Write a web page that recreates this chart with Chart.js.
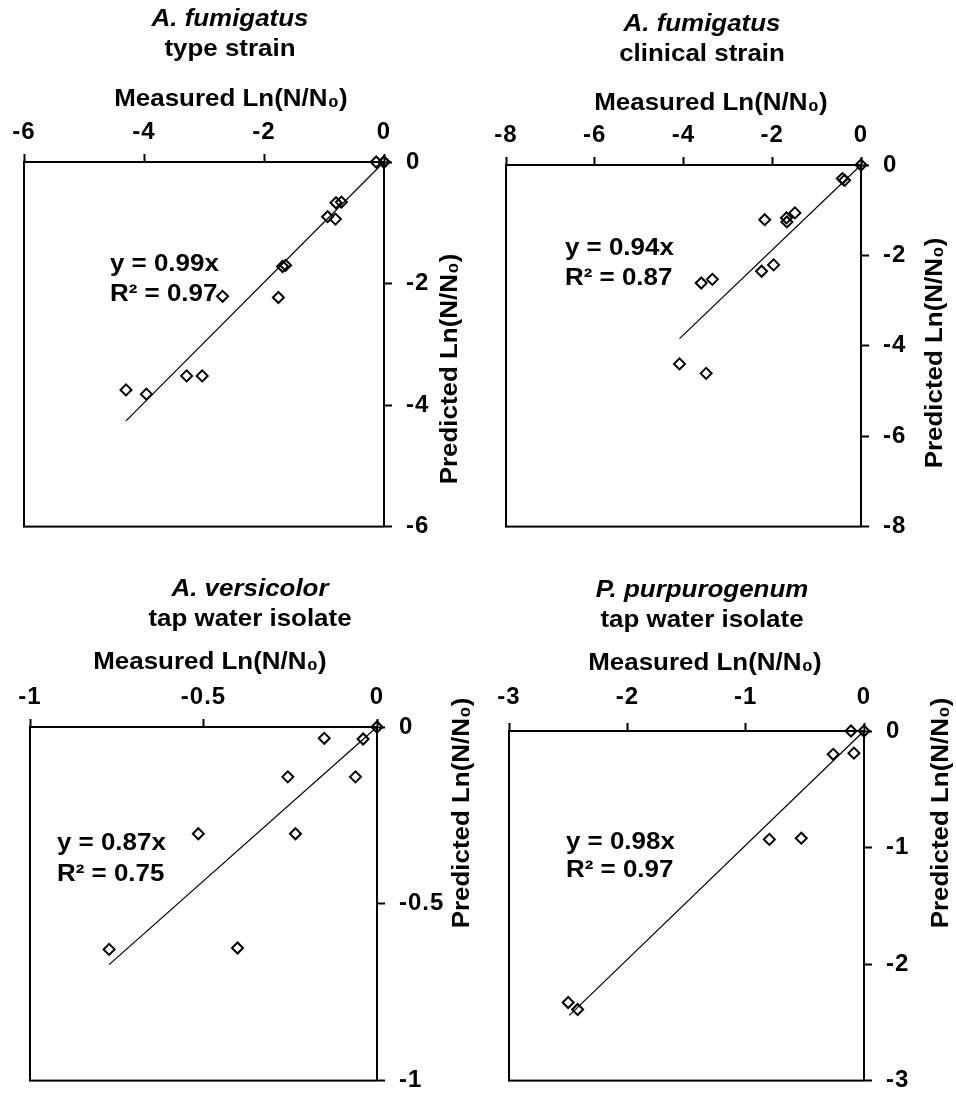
<!DOCTYPE html>
<html>
<head>
<meta charset="utf-8">
<script src="https://cdn.jsdelivr.net/npm/chart.js@4.4.1/dist/chart.umd.min.js"></script>
<style>
  html, body { margin: 0; padding: 0; background: #fff; }
  body { width: 956px; height: 1109px; position: relative; overflow: hidden; }
  canvas { position: absolute; display: block; }
</style>
</head>
<body>
<canvas id="c1" width="478" height="555" style="left:0px;top:0px;width:478px;height:555px"></canvas>
<canvas id="c2" width="478" height="555" style="left:478px;top:0px;width:478px;height:555px"></canvas>
<canvas id="c3" width="478" height="554" style="left:0px;top:555px;width:478px;height:554px"></canvas>
<canvas id="c4" width="478" height="554" style="left:478px;top:555px;width:478px;height:554px"></canvas>
<script>
// ---------------- DATA ----------------
const panelTitles    = ['A. fumigatus', 'A. fumigatus', 'A. versicolor', 'P. purpurogenum'];
const panelSubtitles = ['type strain', 'clinical strain', 'tap water isolate', 'tap water isolate'];
const xAxisTitle = 'Measured Ln(N/N\u2080)';
const yAxisTitle = 'Predicted Ln(N/N\u2080)';

// A. fumigatus type strain
const typeMeasured  = [-0.13, 0, 0, -0.80, -0.71, -0.94, -0.81, -1.69, -1.64, -2.69, -1.76, -3.29, -3.03, -4.30, -3.96];
const typePredicted = [0, 0, 0, -0.67, -0.66, -0.90, -0.94, -1.72, -1.70, -2.21, -2.23, -3.52, -3.52, -3.75, -3.82];
const typeTrendX = [-4.30, 0];
const typeTrendY = [-4.26, 0];
const typeTicks  = [-6, -4, -2, 0];
const typeEquation = ['y = 0.99x', 'R\u00B2 = 0.97'];

// A. fumigatus clinical strain
const clinMeasured  = [0, -0.42, -0.37, -2.17, -1.68, -1.67, -1.49, -2.24, -1.97, -3.60, -3.35, -4.09, -3.49];
const clinPredicted = [0, -0.30, -0.34, -1.21, -1.17, -1.26, -1.06, -2.35, -2.21, -2.61, -2.53, -4.40, -4.61];
const clinTrendX = [-4.09, 0];
const clinTrendY = [-3.84, 0];
const clinTicks  = [-8, -6, -4, -2, 0];
const clinEquation = ['y = 0.94x', 'R\u00B2 = 0.87'];

// A. versicolor tap water isolate
const versMeasured  = [0, -0.152, -0.040, -0.257, -0.062, -0.515, -0.235, -0.772, -0.402];
const versPredicted = [0, -0.032, -0.034, -0.141, -0.141, -0.302, -0.302, -0.629, -0.625];
const versTrendX = [-0.772, 0];
const versTrendY = [-0.672, 0];
const versTicks  = [-1, -0.5, 0];
const versEquation = ['y = 0.87x', 'R\u00B2 = 0.75'];

// P. purpurogenum tap water isolate
const purpMeasured  = [-0.11, 0, -0.26, -0.085, -0.80, -0.53, -2.50, -2.42];
const purpPredicted = [0, 0, -0.20, -0.19, -0.93, -0.92, -2.33, -2.39];
const purpTrendX = [-2.49, 0];
const purpTrendY = [-2.44, 0];
const purpTicks  = [-3, -2, -1, 0];
const purpEquation = ['y = 0.98x', 'R\u00B2 = 0.97'];

// ---------------- LAYOUT (page pixel positions) ----------------
const FONT = '"Liberation Sans", Arial, Helvetica, sans-serif';
const FS = 24;
const LH = FS * 1.2;
const TICK_LETTER_SPACING = '1px';
const TEXT_STRETCH = 1.08;

const layouts = [
  { canvas: {x: 0,   y: 0,   w: 478, h: 555}, area: {l: 24,  r: 384, t: 162, b: 535},
    titleX: 230, titleY: 19, subY: 49, xTitle: {x: 231, y: 99},  yTitle: {x: 450, y: 369}, xTickY: 132, eq: {x: 110, y1: 264, y2: 294} },
  { canvas: {x: 478, y: 0,   w: 478, h: 555}, area: {l: 506, r: 861, t: 165, b: 539},
    titleX: 702, titleY: 24, subY: 54, xTitle: {x: 711, y: 103}, yTitle: {x: 935, y: 353}, xTickY: 135, eq: {x: 565, y1: 248, y2: 278} },
  { canvas: {x: 0,   y: 555, w: 478, h: 554}, area: {l: 30,  r: 377, t: 727, b: 1097},
    titleX: 250, titleY: 589, subY: 619, xTitle: {x: 210, y: 662}, yTitle: {x: 462, y: 813}, xTickY: 697, eq: {x: 57, y1: 843, y2: 874} },
  { canvas: {x: 478, y: 555, w: 478, h: 554}, area: {l: 509, r: 864, t: 731, b: 1095},
    titleX: 702, titleY: 590, subY: 620, xTitle: {x: 705, y: 663}, yTitle: {x: 941, y: 813}, xTickY: 697, eq: {x: 566, y1: 842, y2: 870} }
];

const panelsData = [
  { mx: typeMeasured, py: typePredicted, tx: typeTrendX, ty: typeTrendY, ticks: typeTicks, eq: typeEquation },
  { mx: clinMeasured, py: clinPredicted, tx: clinTrendX, ty: clinTrendY, ticks: clinTicks, eq: clinEquation },
  { mx: versMeasured, py: versPredicted, tx: versTrendX, ty: versTrendY, ticks: versTicks, eq: versEquation },
  { mx: purpMeasured, py: purpPredicted, tx: purpTrendX, ty: purpTrendY, ticks: purpTicks, eq: purpEquation }
];

function stretchedText(ctx, text, x, y, rot) {
  ctx.save();
  ctx.translate(x, y);
  if (rot) ctx.rotate(rot);
  ctx.scale(TEXT_STRETCH, 1);
  ctx.fillText(text, 0, 0);
  ctx.restore();
}

const decorPlugin = {
  id: 'decor',
  beforeDraw(chart) {
    try { chart.ctx.letterSpacing = TICK_LETTER_SPACING; } catch (e) {}
  },
  beforeDatasetsDraw(chart, args, o) {
    const a = chart.chartArea, ctx = chart.ctx;
    ctx.save();
    ctx.strokeStyle = '#000';
    ctx.lineWidth = 2;
    ctx.strokeRect(a.left, a.top, a.right - a.left, a.bottom - a.top);
    ctx.restore();
  },
  afterDraw(chart, args, o) {
    const ctx = chart.ctx;
    ctx.save();
    try { ctx.letterSpacing = '0px'; } catch (e) {}
    ctx.fillStyle = '#000';
    ctx.textAlign = 'center';
    ctx.textBaseline = 'middle';
    // panel title (italic species name) and subtitle
    ctx.font = 'italic bold ' + FS + 'px ' + FONT;
    stretchedText(ctx, o.title, o.titleX, o.titleY);
    ctx.font = 'bold ' + FS + 'px ' + FONT;
    stretchedText(ctx, o.subtitle, o.titleX, o.subY);
    // axis titles
    stretchedText(ctx, o.xTitle, o.xTitleX, o.xTitleY);
    stretchedText(ctx, o.yTitle, o.yTitleX, o.yTitleY, -Math.PI / 2);
    // trendline equation
    ctx.textAlign = 'left';
    stretchedText(ctx, o.eq[0], o.eqX, o.eqY1);
    stretchedText(ctx, o.eq[1], o.eqX, o.eqY2);
    ctx.restore();
  }
};

function buildChart(id, i) {
  const L = layouts[i], D = panelsData[i];
  const cx = L.canvas.x, cy = L.canvas.y, w = L.canvas.w, h = L.canvas.h;
  const padL = L.area.l - cx;
  const padB = (cy + h) - L.area.b;
  const yW = w - (L.area.r - cx);
  const xH = L.area.t - cy;
  const xTickPad = (L.area.t - L.xTickY) - 8 - LH / 2;

  const tickFont = { family: FONT, size: FS, weight: 'bold', lineHeight: 1.2 };
  const ticksArr = D.ticks;

  return new Chart(document.getElementById(id), {
    type: 'scatter',
    data: {
      datasets: [
        {
          label: 'Data',
          data: D.mx.map((x, k) => ({ x: x, y: D.py[k] })),
          pointStyle: 'rectRot',
          pointRadius: 5.5,
          pointBorderWidth: 2,
          borderColor: '#000',
          backgroundColor: 'rgba(0,0,0,0)',
          showLine: false,
          clip: false
        },
        {
          label: 'Linear fit',
          type: 'line',
          data: D.tx.map((x, k) => ({ x: x, y: D.ty[k] })),
          borderColor: '#000',
          borderWidth: 1.2,
          pointRadius: 0,
          fill: false,
          tension: 0,
          clip: false
        }
      ]
    },
    options: {
      responsive: false,
      animation: false,
      events: [],
      layout: { autoPadding: false, padding: { left: padL, right: 0, top: 0, bottom: padB } },
      plugins: {
        legend: { display: false },
        tooltip: { enabled: false },
        title: { display: false },
        subtitle: { display: false },
        decor: {
          title: panelTitles[i], subtitle: panelSubtitles[i],
          titleX: L.titleX - cx, titleY: L.titleY - cy, subY: L.subY - cy,
          xTitle: xAxisTitle, xTitleX: L.xTitle.x - cx, xTitleY: L.xTitle.y - cy,
          yTitle: yAxisTitle, yTitleX: L.yTitle.x - cx, yTitleY: L.yTitle.y - cy,
          eq: D.eq, eqX: L.eq.x - cx, eqY1: L.eq.y1 - cy, eqY2: L.eq.y2 - cy
        }
      },
      scales: {
        x: {
          type: 'linear', position: 'top',
          min: ticksArr[0], max: ticksArr[ticksArr.length - 1],
          afterBuildTicks: s => { s.ticks = ticksArr.map(v => ({ value: v })); },
          afterFit: s => { s.height = xH; },
          ticks: { callback: v => String(v), color: '#000', font: tickFont, padding: xTickPad, maxRotation: 0, autoSkip: false },
          grid: { drawOnChartArea: false, drawTicks: true, tickLength: 8, tickWidth: 2, tickColor: '#000', color: '#000' },
          border: { display: true, color: '#000', width: 2 },
          title: { display: false }
        },
        y: {
          type: 'linear', position: 'right',
          min: ticksArr[0], max: ticksArr[ticksArr.length - 1],
          afterBuildTicks: s => { s.ticks = ticksArr.map(v => ({ value: v })); },
          afterFit: s => { s.width = yW; },
          ticks: { callback: v => String(v), color: '#000', font: tickFont, padding: 14, autoSkip: false },
          grid: { drawOnChartArea: false, drawTicks: true, tickLength: 8, tickWidth: 2, tickColor: '#000', color: '#000' },
          border: { display: true, color: '#000', width: 2 },
          title: { display: false }
        }
      }
    },
    plugins: [decorPlugin]
  });
}

buildChart('c1', 0);
buildChart('c2', 1);
buildChart('c3', 2);
buildChart('c4', 3);
</script>
</body>
</html>
